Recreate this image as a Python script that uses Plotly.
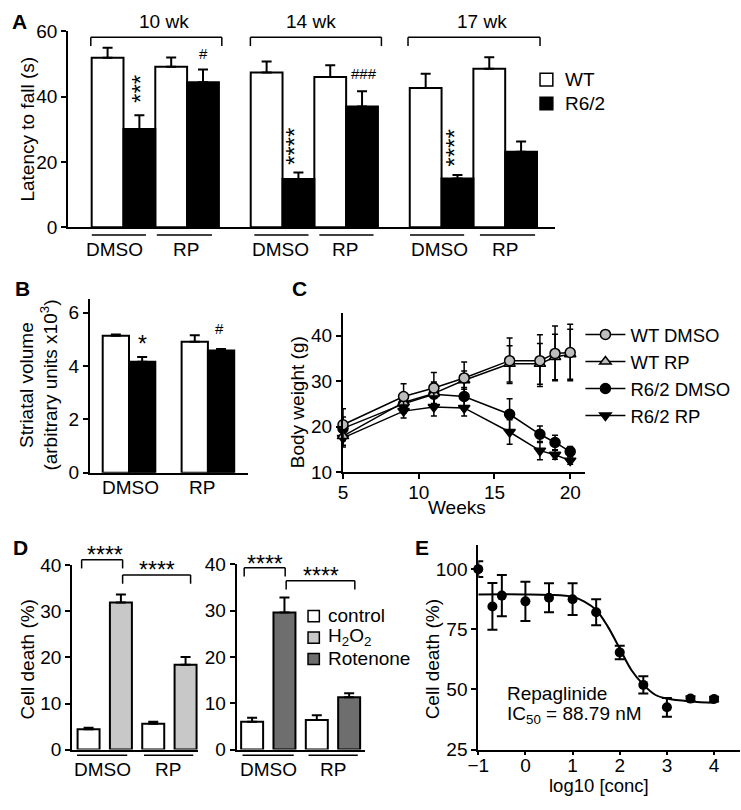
import plotly.graph_objects as go

W, H = 741, 810
FONT = "Liberation Sans, Arial, sans-serif"


def fx(p):
    return p / W


def fy(p):
    return 1 - p / H


# ---------------- DATA ----------------
# Panel A: latency to fall (s); order per genotype: 10wk DMSO, 10wk RP, 14wk DMSO, 14wk RP, 17wk DMSO, 17wk RP
a_weeks = ["10 wk", "14 wk", "17 wk"]
a_treat = ["DMSO", "RP"]
a_wt = [51.9, 49.2, 47.4, 46.0, 42.7, 48.6]
a_wt_err = [3.1, 2.8, 3.4, 3.6, 4.3, 3.5]
a_r62 = [30.1, 44.4, 14.8, 37.0, 14.9, 23.1]
a_r62_err = [4.2, 3.9, 2.0, 4.7, 1.1, 3.2]
a_genotypes = ["WT", "R6/2"]

# Panel B: striatal volume (x10^3)
b_treat = ["DMSO", "RP"]
b_wt = [5.13, 4.91]
b_wt_err = [0.05, 0.24]
b_r62 = [4.16, 4.58]
b_r62_err = [0.18, 0.06]

# Panel C: body weight (g)
c_weeks = [5, 9, 11, 13, 16, 18, 19, 20]
c_wt_dmso = [20.4, 26.6, 28.5, 30.7, 34.5, 34.5, 36.1, 36.3]
c_wt_dmso_err = [3.5, 2.8, 3.4, 3.5, 5.0, 5.7, 6.0, 6.2]
c_wt_rp = [17.9, 25.3, 27.3, 30.2, 33.8, 33.8, 35.3, 35.9]
c_wt_rp_err = [2.0, 2.0, 2.5, 2.0, 4.0, 4.5, 5.0, 5.5]
c_r62_dmso = [19.6, 25.0, 27.1, 26.6, 22.7, 18.3, 16.5, 14.5]
c_r62_dmso_err = [2.5, 2.0, 2.5, 2.0, 3.4, 1.8, 1.6, 1.1]
c_r62_rp = [17.5, 23.4, 24.3, 24.1, 18.8, 14.7, 13.8, 12.5]
c_r62_rp_err = [2.0, 1.5, 2.0, 1.8, 2.7, 2.0, 1.0, 0.8]

# Panel D: cell death (%), [DMSO, RP]
d_treat = ["DMSO", "RP"]
d_legend = ["control", "H<sub>2</sub>O<sub>2</sub>", "Rotenone"]
d1_ctrl = [4.4, 5.6]
d1_ctrl_err = [0.35, 0.42]
d1_h2o2 = [31.9, 18.4]
d1_h2o2_err = [1.76, 1.7]
d2_ctrl = [6.0, 6.4]
d2_ctrl_err = [0.85, 1.0]
d2_rot = [29.6, 11.3]
d2_rot_err = [3.2, 0.85]

# Panel E: dose response
e_logc = [-1, -0.7, -0.5, 0, 0.5, 1, 1.5, 2, 2.5, 3, 3.5, 4]
e_death = [100, 84.5, 89, 86.6, 88.1, 87.5, 82.1, 65.4, 51.9, 42.6, 46.2, 46.0]
e_err = [3.3, 9.7, 8.6, 8.2, 6.0, 6.6, 5.4, 2.8, 3.6, 3.9, 1.0, 1.0]
e_fit_x = [-1, 0, 0.5, 1, 1.25, 1.5, 1.75, 2, 2.25, 2.5, 2.75, 3, 3.5, 4]
e_fit_y = [89.5, 89.5, 89.3, 88.5, 86.5, 83.0, 76.0, 67.0, 58.0, 52.0, 47.8, 46.2, 45.0, 44.5]

GREY = "#bdbdbd"
LIGHT = "#c8c8c8"
DARK = "#6e6e6e"

fig = go.Figure()


def err(arr, sym=False, w=5, th=2):
    d = dict(type="data", array=arr, color="black", thickness=th, width=w, visible=True)
    if sym:
        d["symmetric"] = True
    else:
        d["symmetric"] = False
        d["arrayminus"] = [0] * len(arr)
    return d


# ---- Panel A ----
a_pos_wt = [5 * g + 2 * c for g in range(len(a_weeks)) for c in range(len(a_treat))]
a_pos_r62 = [p + 1 for p in a_pos_wt]
fig.add_trace(go.Bar(x=a_pos_wt, y=a_wt, width=1, name=a_genotypes[0], showlegend=False,
                     marker=dict(color="white", line=dict(color="black", width=2)),
                     error_y=err(a_wt_err), xaxis="x", yaxis="y"))
fig.add_trace(go.Bar(x=a_pos_r62, y=a_r62, width=1, name=a_genotypes[1], showlegend=False,
                     marker=dict(color="black", line=dict(color="black", width=2)),
                     error_y=err(a_r62_err), xaxis="x", yaxis="y"))

# ---- Panel B ----
b_pos_wt = [3 * i for i in range(len(b_treat))]
b_pos_r62 = [p + 1 for p in b_pos_wt]
fig.add_trace(go.Bar(x=b_pos_wt, y=b_wt, width=1, showlegend=False,
                     marker=dict(color="white", line=dict(color="black", width=2)),
                     error_y=err(b_wt_err), xaxis="x2", yaxis="y2"))
fig.add_trace(go.Bar(x=b_pos_r62, y=b_r62, width=1, showlegend=False,
                     marker=dict(color="black", line=dict(color="black", width=2)),
                     error_y=err(b_r62_err), xaxis="x2", yaxis="y2"))

# ---- Panel C ----
c_series = [
    ("R6/2 RP", c_r62_rp, c_r62_rp_err, "triangle-down", "black", 4),
    ("R6/2 DMSO", c_r62_dmso, c_r62_dmso_err, "circle", "black", 3),
    ("WT RP", c_wt_rp, c_wt_rp_err, "triangle-up", GREY, 2),
    ("WT DMSO", c_wt_dmso, c_wt_dmso_err, "circle", GREY, 1),
]
for name, ys, es, sym, col, rank in c_series:
    fig.add_trace(go.Scatter(x=c_weeks, y=ys, name=name, mode="lines+markers",
                             line=dict(color="black", width=1.5),
                             marker=dict(symbol=sym, size=10, color=col,
                                         line=dict(color="black", width=1.5)),
                             error_y=err(es, sym=True, w=3, th=1.5),
                             cliponaxis=False, legendrank=rank,
                             xaxis="x3", yaxis="y3", legend="legend"))

# ---- Panel D ----
d_pos_ctrl = [2 * i for i in range(len(d_treat))]
d_pos_trt = [p + 1 for p in d_pos_ctrl]
bw = 0.68
fig.add_trace(go.Bar(x=d_pos_ctrl, y=d1_ctrl, width=bw, name=d_legend[0], showlegend=False,
                     marker=dict(color="white", line=dict(color="black", width=2)),
                     error_y=err(d1_ctrl_err), xaxis="x4", yaxis="y4"))
fig.add_trace(go.Bar(x=d_pos_trt, y=d1_h2o2, width=bw, name=d_legend[1], showlegend=False,
                     marker=dict(color=LIGHT, line=dict(color="black", width=2)),
                     error_y=err(d1_h2o2_err), xaxis="x4", yaxis="y4"))
fig.add_trace(go.Bar(x=d_pos_ctrl, y=d2_ctrl, width=bw, name=d_legend[0], showlegend=False,
                     marker=dict(color="white", line=dict(color="black", width=2)),
                     error_y=err(d2_ctrl_err), xaxis="x5", yaxis="y5"))
fig.add_trace(go.Bar(x=d_pos_trt, y=d2_rot, width=bw, name=d_legend[2], showlegend=False,
                     marker=dict(color=DARK, line=dict(color="black", width=2)),
                     error_y=err(d2_rot_err), xaxis="x5", yaxis="y5"))

# ---- Panel E ----
fig.add_trace(go.Scatter(x=e_fit_x, y=e_fit_y, mode="lines", showlegend=False,
                         line=dict(color="black", width=2, shape="spline", smoothing=1.0),
                         cliponaxis=False, xaxis="x6", yaxis="y6"))
fig.add_trace(go.Scatter(x=e_logc, y=e_death, mode="markers", showlegend=False,
                         marker=dict(symbol="circle", size=10, color="black"),
                         error_y=err(e_err, sym=True, w=5, th=2),
                         cliponaxis=False, xaxis="x6", yaxis="y6"))


# ---------------- AXES ----------------
def axis(domain, rng, anchor, tickvals=None, standoff=0, ticklen=5):
    d = dict(domain=domain, range=rng, anchor=anchor, showline=True, linecolor="black",
             linewidth=2, showgrid=False, zeroline=False, fixedrange=True,
             tickfont=dict(size=19, color="black", family=FONT))
    if tickvals is not None:
        d.update(tickmode="array", tickvals=tickvals, ticks="outside", ticklen=ticklen,
                 tickwidth=2, tickcolor="black", ticklabelstandoff=standoff)
    else:
        d.update(showticklabels=False, ticks="")
    return d


layout = dict(
    width=W, height=810, margin=dict(l=0, r=0, t=0, b=0),
    paper_bgcolor="white", plot_bgcolor="white", barmode="overlay",
    font=dict(family=FONT, size=19, color="black"),
    xaxis=axis([fx(58), fx(552)], [-1.24, 14.06], "y"),
    yaxis=axis([fy(223), fy(22)], [0, 60], "x", [0, 20, 40, 60]),
    xaxis2=axis([fx(80), fx(241)], [-0.99, 5.04], "y2"),
    yaxis2=axis([fy(475), fy(297)], [0, 6.5], "x2", [0, 2, 4, 6]),
    xaxis3=axis([fx(337), fx(583)], [5, 21], "y3", [5, 10, 15, 20], -3),
    yaxis3=axis([fy(474.3), fy(311)], [10, 45], "x3", [10, 20, 30, 40]),
    xaxis4=axis([fx(62), fx(190)], [-0.51, 3.39], "y4"),
    yaxis4=axis([fy(759.3), fy(570)], [0, 40], "x4", [0, 10, 20, 30, 40]),
    xaxis5=axis([fx(229), fx(359)], [-0.48, 3.48], "y5"),
    yaxis5=axis([fy(759.3), fy(569)], [0, 40], "x5", [0, 10, 20, 30, 40]),
    xaxis6=axis([fx(474.3), fx(740)], [-1, 4.55], "y6", [-1, 0, 1, 2, 3, 4], -5, 3),
    yaxis6=axis([fy(759.3), fy(549.3)], [25, 110], "x6", [25, 50, 75, 100]),
    legend=dict(x=fx(578), y=fy(314), xanchor="left", yanchor="top", itemwidth=40,
                bgcolor="rgba(0,0,0,0)", font=dict(size=18.5), tracegroupgap=0),
)
fig.update_layout(**layout)

# ---------------- ANNOTATIONS ----------------
ann = []


def text(x, y, s, size=19, bold=False, angle=0, xanchor="center", yanchor="middle"):
    ann.append(dict(x=fx(x), y=fy(y), xref="paper", yref="paper", text=("<b>%s</b>" % s) if bold else s,
                    showarrow=False, textangle=angle, xanchor=xanchor, yanchor=yanchor,
                    font=dict(size=size, family=FONT, color="black")))


# panel letters
text(9, 12, "A", 21, True)
text(12, 286, "B", 21, True)
text(293, 286, "C", 21, True)
text(10, 552, "D", 21, True)
text(417, 552, "E", 21, True)

# Panel A
for s, xc in zip(a_weeks, [155, 305, 478]):
    text(xc, 12, s)
text(132, 81, "***", 24, angle=-90)
text(288, 140, "****", 24, angle=-90)
text(450, 142, "****", 24, angle=-90)
text(195, 45, "#", 15)
text(358, 65, "###", 15)
for xc, s in zip([105, 178, 273.5, 339.5, 435, 501.5], a_treat * 3):
    text(xc, 246, s)
text(17, 122, "Latency to fall (s)", angle=-90)
# legend A (manual)
text(560, 71.5, a_genotypes[0], xanchor="left")
text(560, 96, a_genotypes[1], xanchor="left")

# Panel B
text(133, 343, "*", 23)
text(212, 327, "#", 15)
for xc, s in zip([121, 194], b_treat):
    text(xc, 490, s)
text(28, 385, "Striatal volume<br>(arbitrary units x10<sup>3</sup>)", angle=-90)

# Panel C
text(291, 403, "Body weight (g)", angle=-90)
text(453, 511, "Weeks")

# Panel D
for xc, s in zip([93, 159, 261, 327], d_treat * 2):
    text(xc, 780, s)
text(17, 667, "Cell death (%)", angle=-90)
text(95, 560, "****", 23)
text(148, 575, "****", 23)
text(258, 569, "****", 23)
text(315, 581, "****", 23)
# legend D (manual)
for yc, s in zip([622, 644, 666], d_legend):
    text(320, yc, s, xanchor="left")

# Panel E
text(428, 667, "Cell death (%)", angle=-90)
text(597, 809, "log10 [conc]", 18.5, yanchor="bottom")
text(501, 702, "Repaglinide", xanchor="left")
text(501, 724, "IC<sub>50</sub> = 88.79 nM", xanchor="left")

fig.update_layout(annotations=ann)

# ---------------- SHAPES ----------------
shapes = []


def line(x0, y0, x1, y1, w=1.5):
    shapes.append(dict(type="line", xref="paper", yref="paper", x0=fx(x0), y0=fy(y0),
                       x1=fx(x1), y1=fy(y1), line=dict(color="black", width=w)))


def square(x0, y0, x1, y1, fill):
    shapes.append(dict(type="rect", xref="paper", yref="paper", x0=fx(x0), y0=fy(y1),
                       x1=fx(x1), y1=fy(y0), fillcolor=fill,
                       line=dict(color="black", width=1.5)))


def bracket(x0, x1, ytop, ybot):
    line(x0, ybot, x0, ytop)
    line(x0, ytop, x1, ytop)
    line(x1, ytop, x1, ybot)


# A brackets
for x0, x1 in [(81, 214), (243, 376), (403, 537)]:
    bracket(x0, x1, 28, 37)
# A underlines
for x0, x1 in [(82, 137), (148, 204), (247, 302), (313, 368), (405, 460), (476, 532)]:
    line(x0, 231, x1, 231)
# A legend squares
square(537, 65, 550, 78, "white")
square(537, 89.5, 550, 102.5, "black")
# D underlines
for x0, x1 in [(67, 118), (135, 185), (235, 287), (302, 352)]:
    line(x0, 765, x1, 765)
# D brackets
bracket(71.7, 113.3, 564.3, 573.3)
bracket(113.3, 182.3, 580, 589)
bracket(236.7, 278.3, 572.7, 581.7)
bracket(279.3, 349, 586, 595)
# D legend squares
square(301.5, 616.5, 313, 628, "white")
square(301.5, 638.5, 313, 650, LIGHT)
square(301.5, 660.5, 313, 672, DARK)

fig.update_layout(shapes=shapes)

fig.write_html("out.html", config={"displayModeBar": False},
               post_script="document.body.style.margin='0';document.body.style.padding='0';")
